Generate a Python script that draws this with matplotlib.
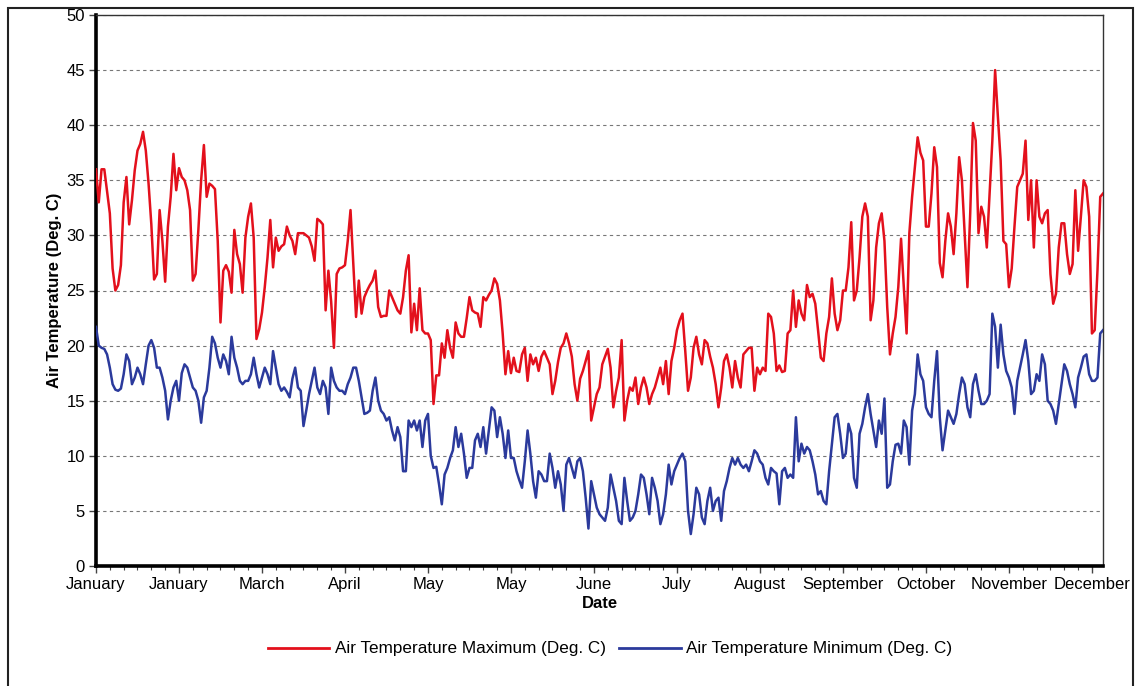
import numpy as np
import matplotlib
matplotlib.use("Agg")
import matplotlib.pyplot as plt
from matplotlib.patches import Rectangle
from matplotlib.ticker import MultipleLocator

plt.rcParams['font.family'] = ['Liberation Sans', 'DejaVu Sans']

# ---------------- data (daily values, day 0 .. 364) ----------------
tmax = [
    36, 33, 36, 36, 34, 32, 27, 25, 25.5, 27.3,
    33, 35.3, 31, 33.2, 35.9, 37.7, 38.3, 39.4, 37.7, 34.7,
    31, 26, 26.5, 32.3, 29.5, 25.8, 30.8, 33.5, 37.4, 34.1,
    36.1, 35.3, 35, 34.1, 32.3, 25.9, 26.5, 30.5, 35, 38.2,
    33.5, 34.7, 34.5, 34.2, 29.5, 22.1, 26.8, 27.3, 26.7, 24.8,
    30.5, 28.3, 27.4, 24.8, 29.8, 31.7, 32.9, 29.8, 20.6, 21.5,
    23, 25.3, 28, 31.4, 27.1, 29.8, 28.6, 29, 29.2, 30.8,
    30, 29.5, 28.3, 30.2, 30.2, 30.2, 30, 29.8, 29, 27.7,
    31.5, 31.3, 31, 23.2, 26.8, 24, 19.8, 26.5, 27, 27.1,
    27.3, 29.5, 32.3, 27.4, 22.6, 25.9, 22.9, 24.4, 25, 25.5,
    25.9, 26.8, 23.5, 22.6, 22.7, 22.7, 25, 24.4, 23.8, 23.2,
    22.9, 24.4, 26.8, 28.2, 21.2, 23.8, 21.4, 25.2, 21.4, 21.1,
    21.1, 20.5, 14.7, 17.3, 17.3, 20.2, 18.9, 21.4, 19.8, 18.9,
    22.1, 21.1, 20.8, 20.8, 22.5, 24.4, 23.2, 23, 22.9, 21.7,
    24.4, 24.1, 24.6, 25, 26.1, 25.6, 24.1, 21.1, 17.4, 19.5,
    17.5, 18.9, 17.7, 17.6, 19.2, 19.8, 16.8, 19.2, 18.3, 18.9,
    17.7, 19, 19.5, 18.9, 18.3, 15.6, 16.8, 18.5, 19.8, 20.2,
    21.1, 20.2, 19, 16.5, 15, 17, 17.7, 18.6, 19.5, 13.2,
    14.4, 15.6, 16.2, 18.3, 19, 19.7, 18, 14.4, 15.9, 17.1,
    20.5, 13.2, 15, 16.2, 15.9, 17.1, 14.7, 16.2, 17.1, 16.2,
    14.7, 15.6, 16.2, 17.1, 18, 16.5, 18.6, 15.6, 18.6, 19.8,
    21.4, 22.3, 22.9, 19.5, 15.9, 17.1, 19.8, 20.8, 19.2, 18.3,
    20.5, 20.2, 19, 18, 16.5, 14.4, 16.2, 18.6, 19.2, 18,
    16.2, 18.6, 17.1, 16.2, 19.2, 19.5, 19.8, 19.8, 15.9, 18,
    17.4, 18, 17.7, 22.9, 22.6, 21.1, 17.7, 18.2, 17.6, 17.7,
    21.1, 21.4, 25, 21.7, 24.1, 22.9, 22.3, 25.5, 24.4, 24.7,
    23.8, 21.4, 18.9, 18.6, 21.1, 22.6, 26.1, 22.9, 21.4, 22.3,
    25, 25, 27.1, 31.2, 24.1, 25, 28, 31.7, 32.9, 31.7,
    22.3, 24.1, 28.9, 31.1, 32, 29.5, 23.5, 19.2, 21.1, 22.6,
    25.3, 29.7, 25.3, 21.1, 30.2, 33.5, 36.2, 38.9, 37.5, 36.8,
    30.8, 30.8, 33.8, 38, 36.2, 27.5, 26.2, 29.5, 32, 30.8,
    28.3, 32, 37.1, 35, 30.2, 25.3, 32, 40.2, 38.6, 30.2,
    32.6, 31.7, 28.9, 33.8, 38.6, 45, 40.8, 36.8, 29.5, 29.2,
    25.3, 27, 30.8, 34.4, 35, 35.6, 38.6, 31.4, 35, 28.9,
    35, 31.7, 31.1, 32, 32.3, 26.5, 23.8, 24.7, 28.9, 31.1,
    31.1, 28.3, 26.5, 27.4, 34.1, 28.6, 31.7, 35, 34.4, 31.7,
    21.1, 21.4, 26.8, 33.5, 33.8,
]

tmin = [
    21.7, 20, 19.8, 19.7, 19.2, 18, 16.5, 16, 15.9, 16.1,
    17.4, 19.2, 18.6, 16.5, 17.1, 18, 17.4, 16.5, 18.3, 20,
    20.5, 19.8, 18, 18, 17.1, 15.9, 13.3, 15, 16.2, 16.8,
    15, 17.5, 18.3, 18, 17.1, 16.2, 15.9, 15, 13, 15.3,
    15.9, 18, 20.8, 20.2, 18.9, 18, 19.2, 18.6, 17.4, 20.8,
    18.9, 18, 16.8, 16.5, 16.8, 16.8, 17.4, 18.9, 17.4, 16.2,
    17.1, 18, 17.4, 16.5, 19.5, 18, 16.5, 15.9, 16.2, 15.8,
    15.3, 17, 18, 16.2, 15.9, 12.7, 14.1, 15.6, 16.8, 18,
    16.2, 15.6, 16.8, 16.2, 13.8, 18, 16.8, 16.2, 15.9, 15.9,
    15.6, 16.5, 17.1, 18, 18, 16.8, 15.3, 13.8, 13.9, 14.1,
    15.9, 17.1, 15, 14.1, 13.8, 13.2, 13.5, 12.3, 11.4, 12.6,
    11.7, 8.6, 8.6, 13.2, 12.6, 13.2, 12.3, 13.2, 10.8, 13.2,
    13.8, 10, 8.9, 9, 7.4, 5.6, 8.3, 8.9, 9.8, 10.5,
    12.6, 10.8, 12, 10.2, 8, 8.9, 8.9, 11.4, 12, 10.8,
    12.6, 10.2, 12.3, 14.4, 14.1, 11.7, 13.5, 12, 9.8, 12.3,
    9.8, 9.8, 8.6, 7.8, 7.1, 9.5, 12.3, 10.2, 7.7, 6.2,
    8.6, 8.3, 7.7, 7.7, 10.2, 8.9, 7.1, 8.6, 7.4, 5,
    9.2, 9.8, 8.9, 8, 9.5, 9.8, 8.6, 6.2, 3.4, 7.7,
    6.5, 5.3, 4.7, 4.4, 4.1, 5.3, 8.3, 7.1, 5.9, 4.1,
    3.8, 8, 5.9, 4.1, 4.4, 5, 6.5, 8.3, 8, 6.5,
    4.7, 8, 7.1, 5.9, 3.8, 4.7, 6.5, 9.2, 7.4, 8.6,
    9.2, 9.8, 10.2, 9.5, 5, 2.9, 4.7, 7.1, 6.5, 4.4,
    3.8, 5.9, 7.1, 5, 5.9, 6.2, 4.1, 6.8, 7.7, 8.9,
    9.8, 9.2, 9.8, 9.2, 8.9, 9.2, 8.6, 9.5, 10.5, 10.2,
    9.5, 9.2, 8, 7.4, 8.9, 8.6, 8.4, 5.6, 8.6, 8.9,
    8, 8.3, 8, 13.5, 9.5, 11.1, 10.2, 10.8, 10.5, 9.5,
    8.3, 6.5, 6.8, 5.9, 5.6, 8.6, 11.1, 13.5, 13.8, 12,
    9.8, 10.2, 12.9, 12, 8, 7.1, 12, 12.9, 14.4, 15.6,
    13.8, 12.3, 10.8, 13.2, 12, 15.2, 7.1, 7.4, 9.5, 11,
    11.1, 10.2, 13.2, 12.6, 9.2, 14.1, 15.6, 19.2, 17.4, 16.8,
    14.4, 13.8, 13.5, 16.8, 19.5, 13.5, 10.5, 12.3, 14.1, 13.5,
    12.9, 13.8, 15.6, 17.1, 16.5, 14.4, 13.5, 16.5, 17.4, 15.9,
    14.7, 14.7, 15, 15.6, 22.9, 21.7, 18, 21.9, 19.2, 17.7,
    17.1, 16.2, 13.8, 16.8, 18, 19.2, 20.5, 18.6, 15.6, 15.9,
    17.4, 16.8, 19.2, 18.3, 15, 14.7, 14.1, 12.9, 14.7, 16.5,
    18.3, 17.7, 16.5, 15.6, 14.4, 17.1, 18, 19, 19.2, 17.4,
    16.8, 16.8, 17.1, 21.1, 21.4,
]

month_labels = ["January", "January", "March", "April", "May", "May", "June",
                "July", "August", "September", "October", "November", "December"]

# ---------------- figure ----------------
W, H = 1141, 686
fig = plt.figure(figsize=(W / 100, H / 100), dpi=100)
ax = fig.add_axes([96 / W, 1 - 566 / H, (1103 - 96) / W, (566 - 15) / H])

days_max = np.arange(len(tmax))
days_min = np.arange(len(tmin))
ax.plot(days_max, tmax, color='#e3101c', lw=1.8, label='Air Temperature Maximum (Deg. C)', zorder=3)
ax.plot(days_min, tmin, color='#2b3a9c', lw=1.8, label='Air Temperature Minimum (Deg. C)', zorder=3)

ax.set_xlim(0, 364)
ax.set_ylim(0, 50)
ax.yaxis.set_major_locator(MultipleLocator(5))
ax.set_xticks(np.arange(0, 361, 30))
ax.set_xticklabels(month_labels)
ax.xaxis.set_minor_locator(MultipleLocator(5))

ax.grid(axis='y', color='#777777', linestyle=(0, (3, 3)), lw=0.8, zorder=1)
ax.set_axisbelow(True)

for side in ['left', 'bottom']:
    ax.spines[side].set_linewidth(2.6)
    ax.spines[side].set_color('black')
for side in ['top', 'right']:
    ax.spines[side].set_linewidth(1.0)
    ax.spines[side].set_color('#333333')

ax.tick_params(axis='both', which='major', labelsize=12, length=5, width=1, color='#444444', pad=3)
ax.tick_params(axis='x', which='minor', length=3, width=0.8, color='#444444')
ax.tick_params(axis='x', which='major', pad=3)

ax.set_xlabel('Date', fontsize=12, fontweight='bold', labelpad=3)
ax.set_ylabel('Air Temperature (Deg. C)', fontsize=12, fontweight='bold', labelpad=3)

leg = fig.legend(loc='center', bbox_to_anchor=(610 / W, 1 - 649 / H), ncol=2, frameon=False,
                 fontsize=12.3, handlelength=3.6, handletextpad=0.3, columnspacing=0.8)
for line in leg.get_lines():
    line.set_linewidth(2)

# figure border
fig.patches.append(Rectangle((8 / W, -0.02), (1133 - 8) / W, (686 - 8) / H + 0.02,
                             transform=fig.transFigure, fill=False, edgecolor='#222222',
                             lw=1.5, zorder=0))

fig.savefig('out.png', dpi=100)
